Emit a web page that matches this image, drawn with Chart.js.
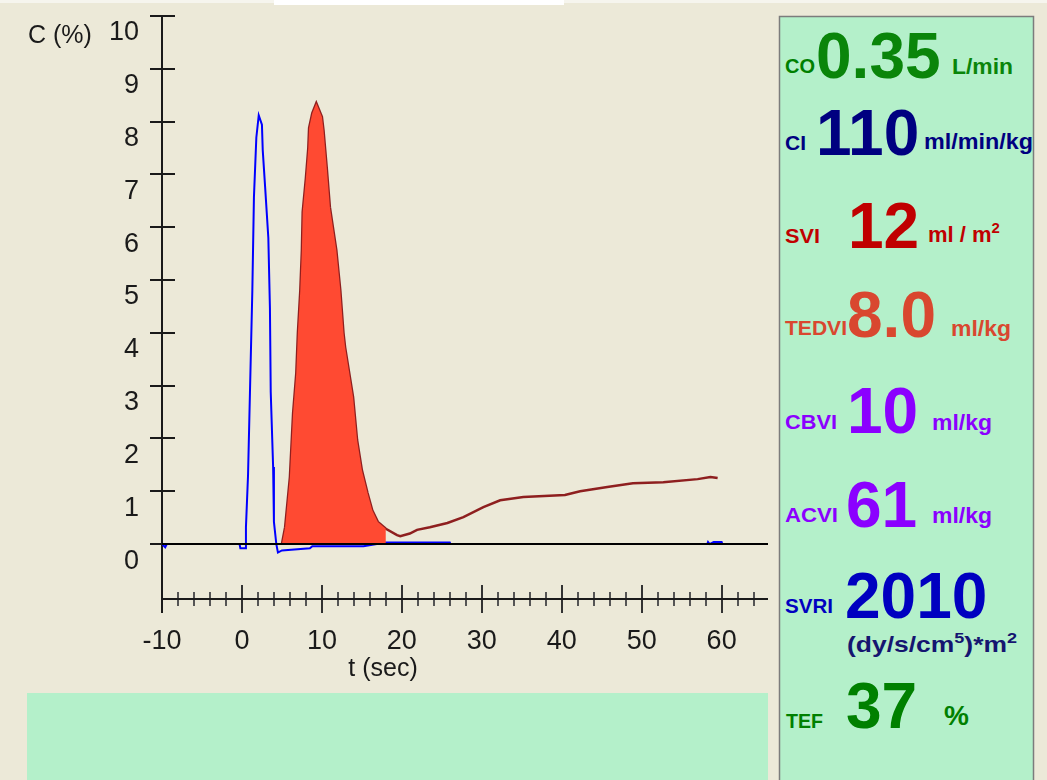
<!DOCTYPE html>
<html>
<head>
<meta charset="utf-8">
<script src="https://cdn.jsdelivr.net/npm/chart.js@4.4.1/dist/chart.umd.min.js"></script>
<style>
html, body { margin: 0; padding: 0; background: #ECE9D8; width: 1047px; height: 780px; overflow: hidden; }
#topline { position: absolute; left: 0; top: 0; width: 1047px; height: 3px; background: #F6F5EE; }
#topstrip { position: absolute; left: 274px; top: 0; width: 290px; height: 5px; background: #FFFFFF; }
#plot { position: absolute; left: 0; top: 0; width: 775px; height: 690px; }
#note { position: absolute; left: 27px; top: 693px; width: 741px; height: 87px; background: #B4F0CA; }
#panel { position: absolute; left: 0; top: 0; }
#panel text { font-family: "Liberation Sans", Arial, sans-serif; font-weight: bold; }
</style>
</head>
<body>
<div id="topline"></div>
<div id="topstrip"></div>
<div id="plot"><canvas id="myChart"></canvas></div>
<div id="note"></div>

<svg id="panel" width="1047" height="780">
  <rect x="779.5" y="16.5" width="254" height="780" fill="#B4F0CA" stroke="#7C7C7C" stroke-width="1.5"/>

  <text x="785" y="73" font-size="21" fill="#008000" textLength="30" lengthAdjust="spacingAndGlyphs">CO</text>
  <text x="816" y="78" font-size="64" fill="#0A850A">0.35</text>
  <text x="952" y="74" font-size="22" fill="#0A850A" textLength="61" lengthAdjust="spacingAndGlyphs">L/min</text>

  <text x="785" y="150" font-size="21" fill="#000080">CI</text>
  <text x="816" y="155" font-size="64" fill="#000080">110</text>
  <text x="924" y="149" font-size="22" fill="#000080" textLength="109" lengthAdjust="spacingAndGlyphs">ml/min/kg</text>

  <text x="785" y="243" font-size="21" fill="#C00000" textLength="35" lengthAdjust="spacingAndGlyphs">SVI</text>
  <text x="848" y="248" font-size="64" fill="#C00000">12</text>
  <text x="928" y="242" font-size="22" fill="#C00000">ml / m<tspan dy="-9" font-size="15">2</tspan></text>

  <text x="785" y="335" font-size="21" fill="#D9472F" textLength="62" lengthAdjust="spacingAndGlyphs">TEDVI</text>
  <text x="847" y="337" font-size="64" fill="#D9472F">8.0</text>
  <text x="951" y="336" font-size="22" fill="#D9472F" textLength="60" lengthAdjust="spacingAndGlyphs">ml/kg</text>

  <text x="785" y="429" font-size="21" fill="#8B00FF" textLength="52" lengthAdjust="spacingAndGlyphs">CBVI</text>
  <text x="847" y="433" font-size="64" fill="#8B00FF">10</text>
  <text x="932" y="430" font-size="22" fill="#8B00FF" textLength="60" lengthAdjust="spacingAndGlyphs">ml/kg</text>

  <text x="785" y="522" font-size="21" fill="#8B00FF" textLength="53" lengthAdjust="spacingAndGlyphs">ACVI</text>
  <text x="846" y="527" font-size="64" fill="#8B00FF">61</text>
  <text x="932" y="523" font-size="22" fill="#8B00FF" textLength="60" lengthAdjust="spacingAndGlyphs">ml/kg</text>

  <text x="785" y="613" font-size="21" fill="#0000C0" textLength="48" lengthAdjust="spacingAndGlyphs">SVRI</text>
  <text x="845" y="618" font-size="64" fill="#0000C0">2010</text>
  <text x="847" y="652" font-size="22" fill="#151570" textLength="170" lengthAdjust="spacingAndGlyphs">(dy/s/cm<tspan dy="-9" font-size="15">5</tspan><tspan dy="9">)*m</tspan><tspan dy="-9" font-size="15">2</tspan></text>

  <text x="786" y="728" font-size="21" fill="#008000" textLength="37" lengthAdjust="spacingAndGlyphs">TEF</text>
  <text x="846" y="728" font-size="64" fill="#008000">37</text>
  <text x="944" y="725" font-size="28" fill="#008000">%</text>
</svg>

<script>
// indicator dilution curves, t in sec, C in %
var blueT = [-10, -9.6, -9.4, -0.3, -0.2, 0.4, 0.5, 0.76, 1.0, 1.3, 1.5, 1.8, 2.1, 2.5, 2.6, 2.9, 3.3, 3.5, 3.6, 3.9, 4.0, 4.3, 4.5, 5.0, 8.5, 8.8, 15.2, 18.0, 26.0, 26.1, 58.2, 58.3, 58.5, 59.0, 60.0, 60.1];
var blueC = [0, -0.06, 0, 0, -0.08, -0.08, 0.32, 1.3, 2.86, 4.8, 6.57, 7.7, 8.12, 7.94, 7.46, 6.76, 5.8, 4.47, 2.88, 1.46, 0.42, 0, -0.16, -0.12, -0.08, -0.04, -0.04, 0.03, 0.03, 0, 0, 0.04, 0, 0.04, 0.04, 0];

var redT = [5.0, 5.4, 6.0, 6.4, 6.8, 7.0, 7.3, 7.5, 7.6, 8.0, 8.3, 8.4, 8.8, 9.3, 10.0, 10.2, 10.6, 11.0, 11.8, 12.3, 12.7, 12.9, 13.9, 14.4, 15.0, 15.7, 16.3, 17.0, 18.0, 19.4, 19.8, 21.0, 21.9, 23.5, 25.7, 27.7, 30.2, 32.3, 35.2, 40.4, 42.3, 45.7, 48.9, 52.7, 57.0, 58.6, 59.5];
var redC = [0, 0.32, 1.27, 2.48, 3.24, 4.0, 4.8, 5.57, 6.29, 6.93, 7.5, 7.88, 8.16, 8.35, 8.09, 7.84, 7.14, 6.38, 5.57, 4.81, 4.0, 3.73, 2.78, 1.97, 1.4, 0.97, 0.64, 0.42, 0.29, 0.17, 0.15, 0.2, 0.27, 0.32, 0.4, 0.51, 0.7, 0.83, 0.89, 0.93, 1.0, 1.08, 1.15, 1.17, 1.23, 1.27, 1.25];
var fillEnd = 18;

var yTicks = [0, 1, 2, 3, 4, 5, 6, 7, 8, 9, 10];
var xMajor = [-10, 0, 10, 20, 30, 40, 50, 60];
var xMinor = [-8, -6, -4, -2, 2, 4, 6, 8, 12, 14, 16, 18, 22, 24, 26, 28, 32, 34, 36, 38, 42, 44, 46, 48, 52, 54, 56, 58, 62, 64];

var tickFont = '"Liberation Sans", Arial, sans-serif';

function pts(t, c) {
  return t.map(function (v, i) { return { x: v, y: c[i] }; });
}

function line(ctx, x1, y1, x2, y2) {
  ctx.beginPath();
  ctx.moveTo(x1, y1);
  ctx.lineTo(x2, y2);
  ctx.stroke();
}

var axesPlugin = {
  id: 'axes',
  beforeDatasetsDraw: function (chart) {
    var ctx = chart.ctx, a = chart.chartArea, x = chart.scales.x, y = chart.scales.y;
    ctx.save();
    ctx.lineWidth = 2;
    ctx.strokeStyle = '#555';
    xMinor.forEach(function (v) {
      var px = Math.round(x.getPixelForValue(v));
      line(ctx, px, a.bottom - 7, px, a.bottom + 7);
    });
    ctx.strokeStyle = '#333';
    xMajor.forEach(function (v) {
      var px = Math.round(x.getPixelForValue(v));
      line(ctx, px, a.bottom - 14, px, a.bottom + 14);
    });
    ctx.strokeStyle = '#1a1a1a';
    line(ctx, a.left, a.bottom, a.right, a.bottom);
    line(ctx, a.left, a.top, a.left, a.bottom + 14);
    yTicks.forEach(function (v) {
      var py = Math.round(y.getPixelForValue(v));
      line(ctx, a.left - 12, py, a.left + 13, py);
    });
    ctx.restore();
  },
  afterDatasetsDraw: function (chart) {
    var ctx = chart.ctx, a = chart.chartArea, y = chart.scales.y;
    ctx.save();
    ctx.lineWidth = 2;
    ctx.strokeStyle = '#000';
    var py0 = Math.round(y.getPixelForValue(0));
    line(ctx, a.left, py0, a.right, py0);

    ctx.fillStyle = '#1a1a1a';
    ctx.font = '25px ' + tickFont;
    ctx.textBaseline = 'alphabetic';
    ctx.textAlign = 'left';
    ctx.fillText('C (%)', 28, 43);
    ctx.textAlign = 'center';
    ctx.fillText('t (sec)', 383, 676);
    ctx.restore();
  }
};

var ctx = document.getElementById('myChart').getContext('2d');

var myChart = new Chart(ctx, {
  type: 'line',
  data: {
    datasets: [{
      label: 'area',
      data: pts(redT, redC).filter(function (p) { return p.x <= fillEnd; }),
      fill: 'origin',
      backgroundColor: '#FF4A32',
      borderWidth: 0,
      pointRadius: 0
    }, {
      label: 'reference',
      data: pts(blueT, blueC),
      borderColor: '#0000FF',
      borderWidth: 2,
      pointRadius: 0,
      fill: false
    }, {
      label: 'curve',
      data: pts(redT, redC),
      borderColor: '#8E1F1F',
      borderWidth: 2.5,
      pointRadius: 0,
      fill: false
    }]
  },
  options: {
    responsive: true,
    maintainAspectRatio: false,
    animation: false,
    layout: { padding: { top: 16, right: 7, left: 0, bottom: 0 } },
    plugins: { legend: { display: false }, tooltip: { enabled: false } },
    scales: {
      x: {
        type: 'linear',
        min: -10,
        max: 65.8,
        grid: { display: false, drawTicks: false },
        border: { display: false },
        afterBuildTicks: function (s) { s.ticks = xMajor.map(function (v) { return { value: v }; }); },
        afterFit: function (s) { s.height = 91; s.paddingLeft = 0; s.paddingRight = 0; },
        ticks: { padding: 26, color: '#1a1a1a', maxRotation: 0, autoSkip: false, font: { family: tickFont, size: 27 } }
      },
      y: {
        type: 'linear',
        min: -1.04,
        max: 10,
        grid: { display: false, drawTicks: false },
        border: { display: false },
        afterBuildTicks: function (s) { s.ticks = yTicks.map(function (v) { return { value: v }; }); },
        afterFit: function (s) { s.width = 162; s.paddingTop = 0; s.paddingBottom = 0; },
        ticks: { padding: 23, labelOffset: 17, color: '#1a1a1a', autoSkip: false, font: { family: tickFont, size: 27 } }
      }
    }
  },
  plugins: [axesPlugin]
});
</script>
</body>
</html>
